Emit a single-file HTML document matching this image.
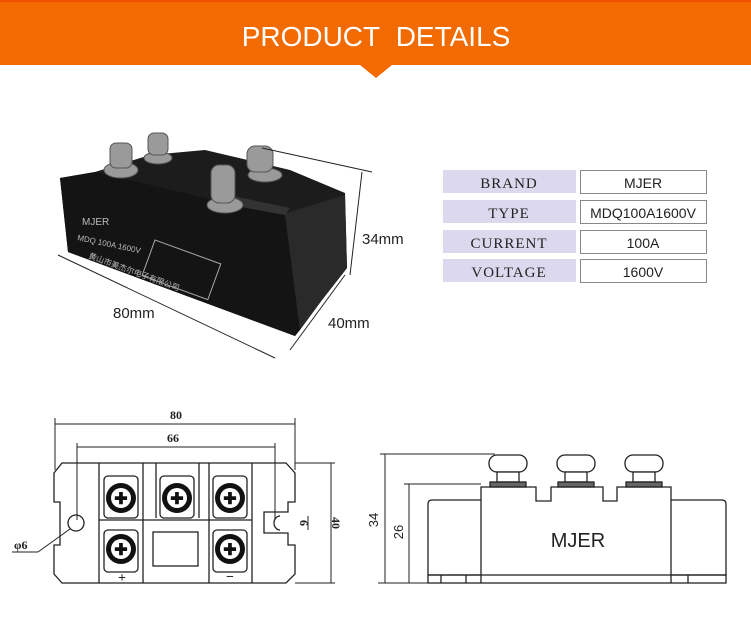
<!DOCTYPE html>
<html><head><meta charset="utf-8"><style>
body{margin:0;width:751px;height:624px;background:#fff;overflow:hidden;font-family:"Liberation Sans",sans-serif}
</style></head><body>
<svg width="751" height="624" viewBox="0 0 751 624" xmlns="http://www.w3.org/2000/svg">
<rect x="0" y="0" width="751" height="65" fill="#f26a02"/>
<rect x="0" y="0" width="751" height="2" fill="#f25000"/>
<polygon points="360,65 392,65 376,78" fill="#f26a02"/>
<text x="376" y="46" font-size="28" fill="#fff" text-anchor="middle" font-family="Liberation Sans">PRODUCT&#160;&#160;DETAILS</text>

<!-- photo -->
<polygon points="60,178 95,172 150,155 205,150 290,170 345,193 347,268 322,300 295,336 68,252" fill="#1c1c1c"/>
<polygon points="280,215 345,195 347,268 322,300 300,330" fill="#2a2a2a"/>
<polygon points="60,178 95,172 235,205 285,215 300,330 295,336 68,252" fill="#141414"/>
<polygon points="228,195 290,208 285,215 230,205" fill="#333"/>
<g fill="#9a9a9a" stroke="#555">
<ellipse cx="121" cy="170" rx="17" ry="8"/><rect x="110" y="143" width="22" height="25" rx="6"/>
<ellipse cx="158" cy="158" rx="14" ry="6"/><rect x="148" y="133" width="20" height="22" rx="6"/>
<ellipse cx="265" cy="175" rx="17" ry="7"/><rect x="247" y="146" width="26" height="26" rx="8"/>
<ellipse cx="225" cy="205" rx="18" ry="8"/><rect x="211" y="165" width="24" height="38" rx="8"/>
</g>
<text x="82" y="225" font-size="10" fill="#bbb">MJER</text>
<text x="77" y="240" font-size="8" fill="#bbb" transform="rotate(12 77 240)">MDQ 100A 1600V</text>
<text x="88" y="258" font-size="8" fill="#bbb" transform="rotate(20 88 258)" font-family="Liberation Sans,Noto Sans CJK SC,sans-serif">黄山市美杰尔电子有限公司</text>
<rect x="155" y="240" width="70" height="38" fill="none" stroke="#aaa" transform="rotate(20 155 240)"/>
<g stroke="#222" stroke-width="1" fill="none">
<line x1="262" y1="148" x2="372" y2="172"/>
<line x1="362" y1="172" x2="350" y2="275"/>
<line x1="58" y1="255" x2="275" y2="358"/>
<line x1="290" y1="350" x2="345" y2="275"/>
</g>
<text x="362" y="244" font-size="15" fill="#222">34mm</text>
<text x="113" y="318" font-size="15" fill="#222">80mm</text>
<text x="328" y="328" font-size="15" fill="#222">40mm</text>

<!-- table -->
<g font-size="15" fill="#222">
<rect x="443" y="170" width="133" height="23" fill="#dcd9ee"/><rect x="580.5" y="170.5" width="126" height="23" fill="#fff" stroke="#888"/>
<rect x="443" y="200" width="133" height="23" fill="#dcd9ee"/><rect x="580.5" y="200.5" width="126" height="23" fill="#fff" stroke="#888"/>
<rect x="443" y="230" width="133" height="23" fill="#dcd9ee"/><rect x="580.5" y="230.5" width="126" height="23" fill="#fff" stroke="#888"/>
<rect x="443" y="259" width="133" height="23" fill="#dcd9ee"/><rect x="580.5" y="259.5" width="126" height="23" fill="#fff" stroke="#888"/>
<g font-family="Liberation Serif" text-anchor="middle" letter-spacing="1"><text x="509" y="188">BRAND</text><text x="509" y="218">TYPE</text><text x="509" y="248">CURRENT</text><text x="509" y="277">VOLTAGE</text></g>
<g font-family="Liberation Sans" text-anchor="middle" font-size="14"><text x="643" y="188">MJER</text><text x="643" y="218">MDQ100A1600V</text><text x="643" y="248">100A</text><text x="643" y="277">1600V</text></g>
</g>

<!-- front drawing -->
<g stroke="#222" stroke-width="1.3" fill="none">
<polygon points="62,463 286,463 295,473 295,502 288,502 288,512 264,512 264,533 288,533 288,545 295,545 295,574 286,583 62,583 54,574 54,545 60,545 60,502 54,502 54,473"/>
<line x1="99" y1="463" x2="99" y2="583"/><line x1="143" y1="463" x2="143" y2="583"/>
<line x1="156" y1="463" x2="156" y2="518"/><line x1="199" y1="463" x2="199" y2="518"/>
<line x1="209" y1="463" x2="209" y2="583"/><line x1="252" y1="463" x2="252" y2="583"/>
<line x1="99" y1="520" x2="252" y2="520"/>
<rect x="153" y="532" width="45" height="34"/>
<rect x="104" y="476" width="34" height="42" rx="4"/><rect x="160" y="476" width="34" height="42" rx="4"/><rect x="213" y="476" width="34" height="42" rx="4"/>
<rect x="104" y="530" width="34" height="42" rx="4"/><rect x="213" y="530" width="34" height="42" rx="4"/>
<circle cx="76" cy="523" r="8"/>
<path d="M280,516 a6,7 0 0 0 0,14"/>
<line x1="55" y1="424" x2="295" y2="424" stroke-width="1"/><line x1="55" y1="418" x2="55" y2="470" stroke-width="1"/><line x1="295" y1="418" x2="295" y2="470" stroke-width="1"/>
<line x1="77" y1="447" x2="275" y2="447" stroke-width="1"/><line x1="77" y1="443" x2="77" y2="520" stroke-width="1"/><line x1="275" y1="443" x2="275" y2="520" stroke-width="1"/>
<line x1="331" y1="463" x2="331" y2="583" stroke-width="1"/><line x1="295" y1="463" x2="335" y2="463" stroke-width="1"/><line x1="295" y1="583" x2="335" y2="583" stroke-width="1"/>
<line x1="308" y1="516" x2="308" y2="530" stroke-width="1"/>
<line x1="12" y1="552" x2="38" y2="552" stroke-width="1"/><line x1="38" y1="552" x2="70" y2="529" stroke-width="1"/>
</g>
<g fill="#111">
<circle cx="121" cy="498" r="15"/><circle cx="177" cy="498" r="15"/><circle cx="230" cy="498" r="15"/>
<circle cx="121" cy="549" r="15"/><circle cx="230" cy="549" r="15"/>
</g>
<g fill="#fff">
<circle cx="121" cy="498" r="10"/><circle cx="177" cy="498" r="10"/><circle cx="230" cy="498" r="10"/>
<circle cx="121" cy="549" r="10"/><circle cx="230" cy="549" r="10"/>
</g>
<g font-size="16" font-weight="bold" fill="#111" text-anchor="middle">
<text x="121" y="504">✚</text><text x="177" y="504">✚</text><text x="230" y="504">✚</text><text x="121" y="555">✚</text><text x="230" y="555">✚</text>
</g>
<g font-family="Liberation Serif" font-weight="bold" fill="#222" font-size="12">
<text x="176" y="419" text-anchor="middle">80</text>
<text x="173" y="442" text-anchor="middle">66</text>
<text x="14" y="549">φ6</text>
<text x="122" y="582" text-anchor="middle" font-size="14">+</text>
<text x="230" y="581" text-anchor="middle" font-size="14">−</text>
<text transform="translate(332,523) rotate(90)" text-anchor="middle">40</text>
<text transform="translate(300,523) rotate(90)" text-anchor="middle">6</text>
</g>

<!-- side drawing -->
<g stroke="#222" stroke-width="1.3" fill="none">
<path d="M481,583 L481,487 L536,487 L536,501 L551,501 L551,487 L603,487 L603,501 L617,501 L617,487 L671,487 L671,583"/>
<path d="M481,500 L432,500 Q428,500 428,504 L428,575 L481,575"/>
<path d="M671,500 L722,500 Q726,500 726,504 L726,575 L671,575"/>
<rect x="428" y="575" width="298" height="8"/>
<line x1="441" y1="575" x2="441" y2="583"/><line x1="466" y1="575" x2="466" y2="583"/><line x1="688" y1="575" x2="688" y2="583"/>
<line x1="385" y1="454" x2="385" y2="583" stroke-width="1"/><line x1="380" y1="454" x2="495" y2="454" stroke-width="1"/>
<line x1="409" y1="484" x2="409" y2="583" stroke-width="1"/><line x1="404" y1="484" x2="481" y2="484" stroke-width="1"/>
<line x1="378" y1="583" x2="428" y2="583" stroke-width="1"/>
</g>
<g stroke="#222" stroke-width="1.3" fill="#fff">
<rect x="489" y="455" width="38" height="17" rx="8"/><rect x="557" y="455" width="38" height="17" rx="8"/><rect x="625" y="455" width="38" height="17" rx="8"/>
<rect x="497" y="472" width="22" height="10"/><rect x="565" y="472" width="22" height="10"/><rect x="633" y="472" width="22" height="10"/>
<rect x="490" y="482" width="36" height="5" fill="#666"/><rect x="558" y="482" width="36" height="5" fill="#666"/><rect x="626" y="482" width="36" height="5" fill="#666"/>
</g>
<text x="578" y="547" font-size="20" fill="#222" text-anchor="middle" font-family="Liberation Sans">MJER</text>
<g font-size="13" fill="#222">
<text transform="translate(378,520) rotate(-90)" text-anchor="middle">34</text>
<text transform="translate(403,532) rotate(-90)" text-anchor="middle">26</text>
</g>
</svg>
</body></html>
